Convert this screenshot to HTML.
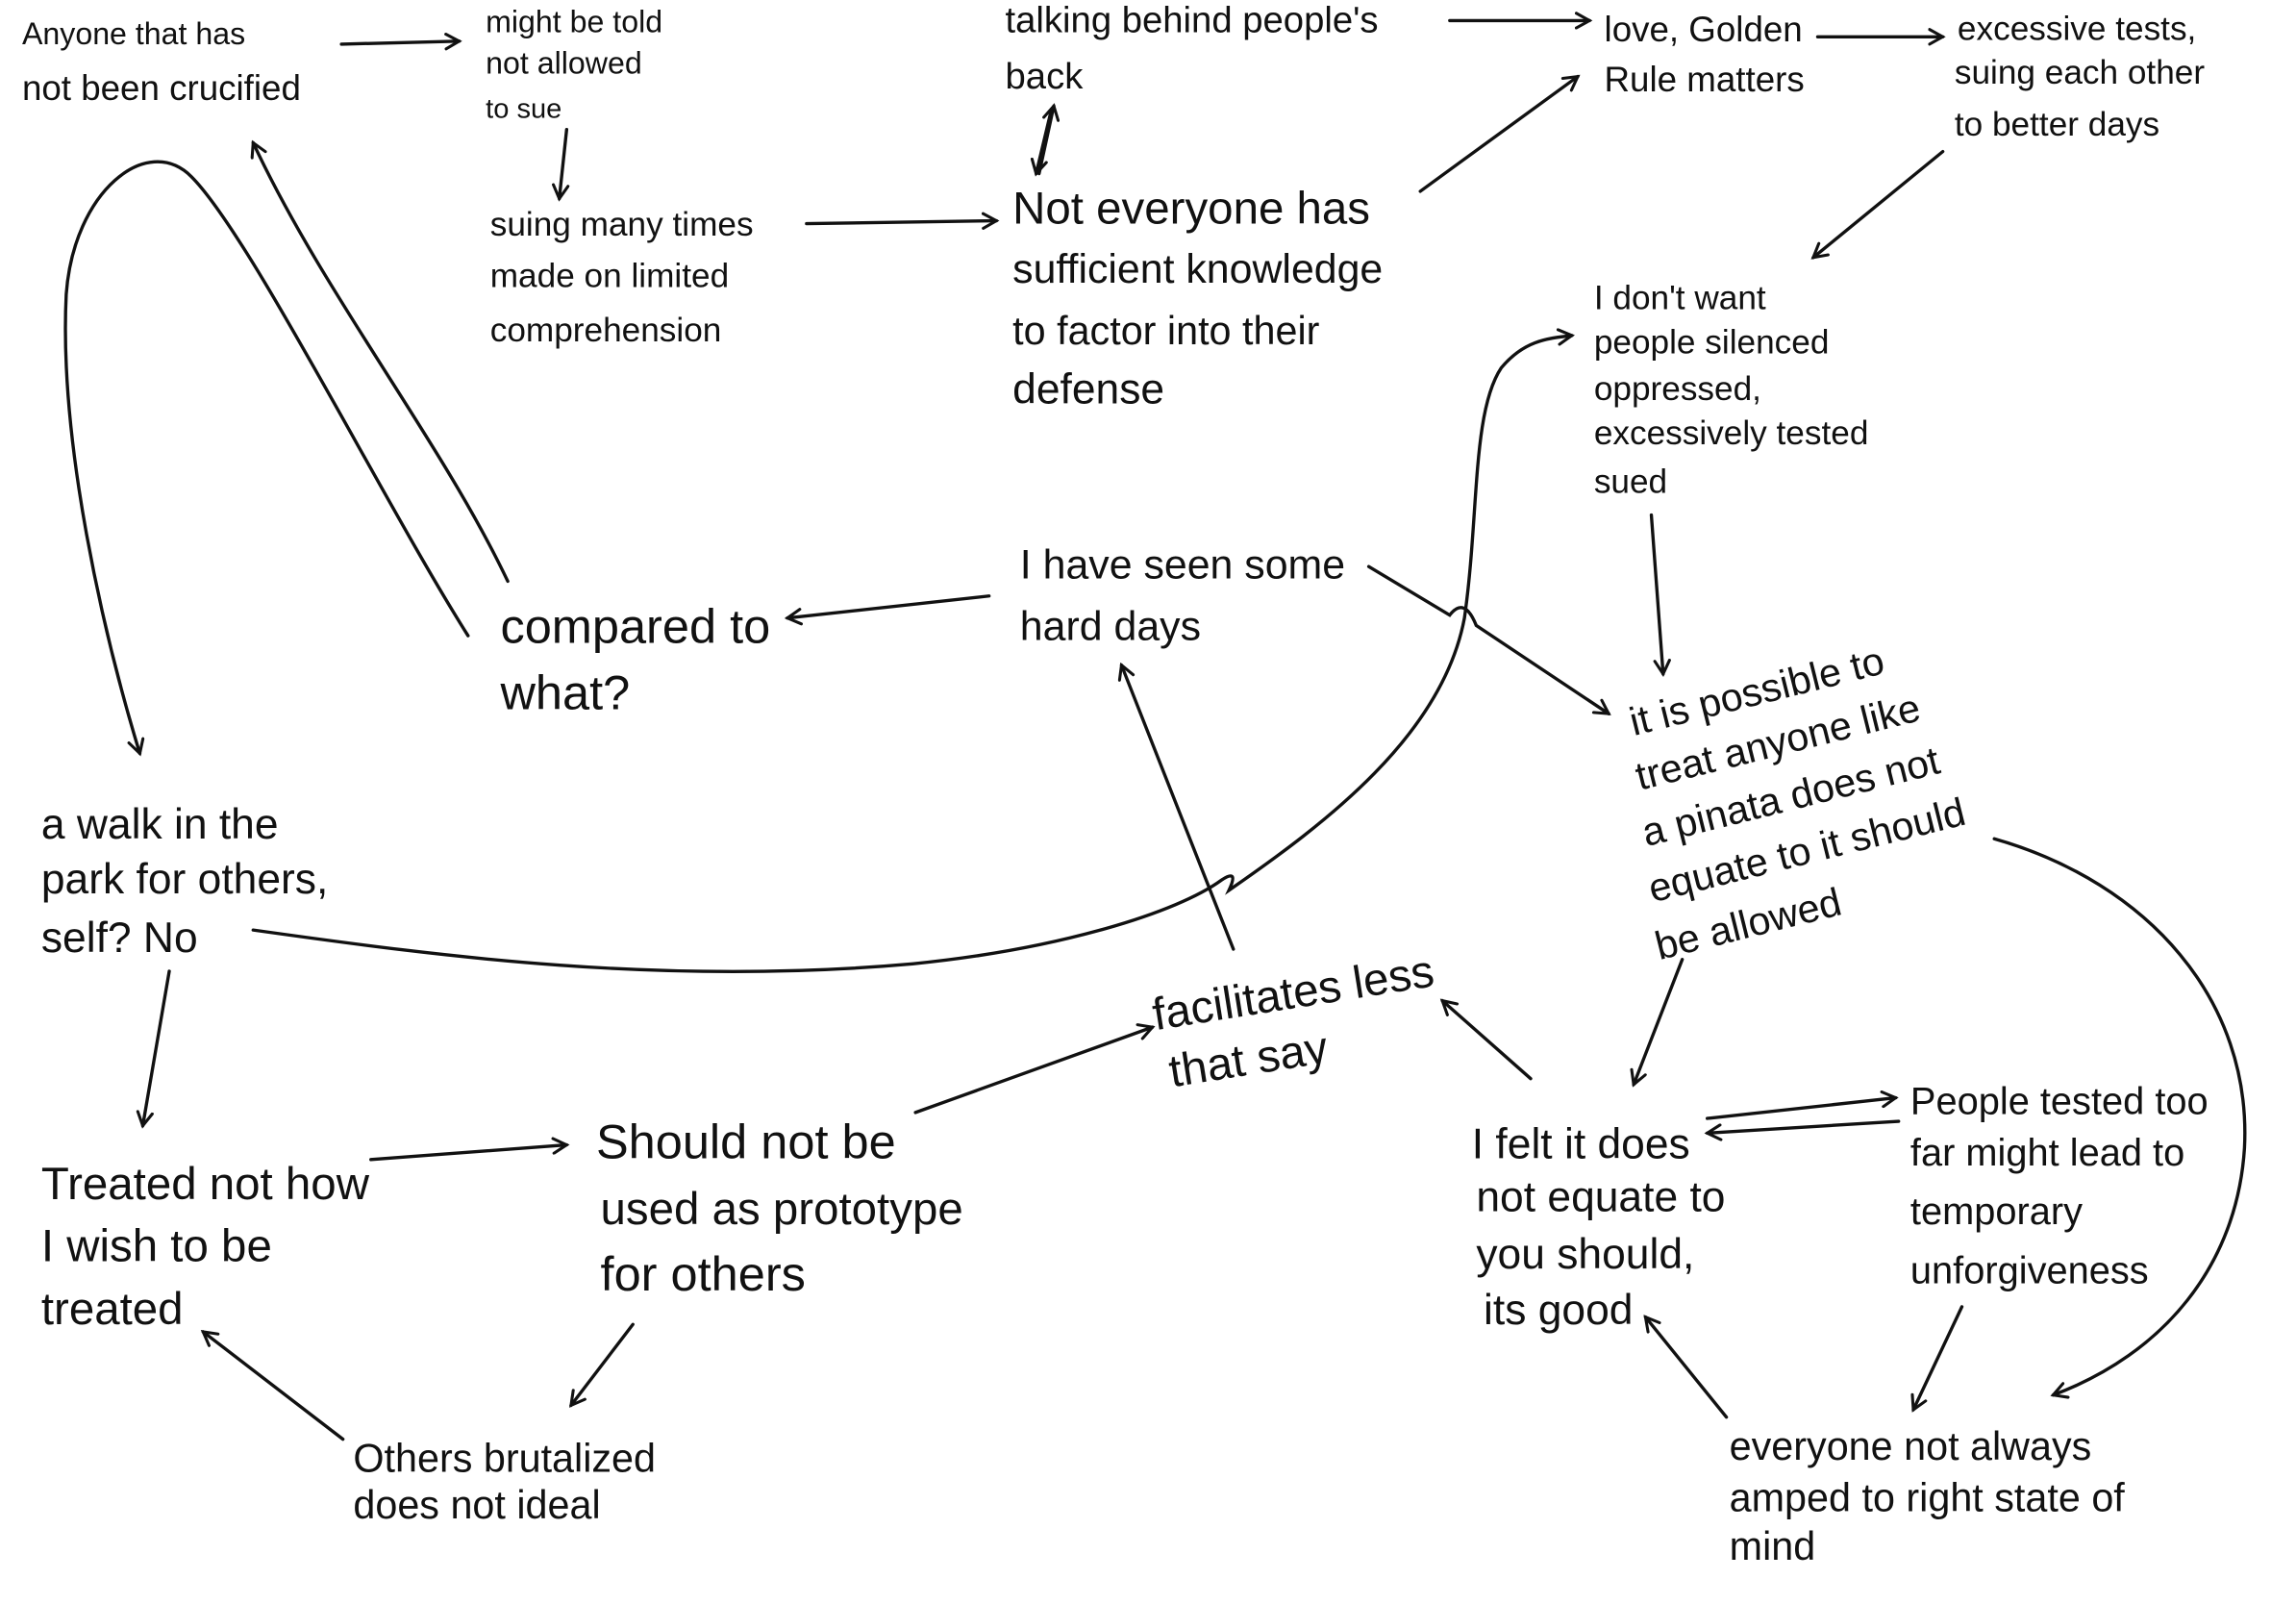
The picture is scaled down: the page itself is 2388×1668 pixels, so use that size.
<!DOCTYPE html>
<html><head><meta charset="utf-8"><style>
html,body{margin:0;padding:0;background:#fff;}
svg{display:block;}
text{font-family:"Liberation Sans",sans-serif;fill:#111;}
path,line{stroke:#111;stroke-width:2.2;fill:none;stroke-linecap:round;}
</style></head><body>
<svg width="2388" height="1668" viewBox="0 0 1560 1090" preserveAspectRatio="none" xmlns="http://www.w3.org/2000/svg">
<defs><marker id="a" markerWidth="12" markerHeight="12" refX="10" refY="6" orient="auto" markerUnits="userSpaceOnUse"><path d="M1,1 L10,6 L1,11" style="stroke-width:2"/></marker></defs>
<g font-size="24">
<text x="15" y="30" font-size="21">Anyone that has</text>
<text x="15" y="68" font-size="24">not been crucified</text>
<text x="330" y="22" font-size="21">might be told</text>
<text x="330" y="50" font-size="21">not allowed</text>
<text x="330" y="80" font-size="19">to sue</text>
<text x="333" y="160" font-size="23">suing many times</text>
<text x="333" y="195" font-size="23">made on limited</text>
<text x="333" y="232" font-size="23">comprehension</text>
<text x="683" y="22" font-size="25">talking behind people's</text>
<text x="683" y="60" font-size="25">back</text>
<text x="688" y="152" font-size="31">Not everyone has</text>
<text x="688" y="192" font-size="28">sufficient knowledge</text>
<text x="688" y="234" font-size="27">to factor into their</text>
<text x="688" y="274" font-size="29">defense</text>
<text x="1090" y="28" font-size="24">love, Golden</text>
<text x="1090" y="62" font-size="24">Rule matters</text>
<text x="1330" y="27" font-size="23">excessive tests,</text>
<text x="1328" y="57" font-size="23">suing each other</text>
<text x="1328" y="92" font-size="23">to better days</text>
<text x="1083" y="210" font-size="23">I don't want</text>
<text x="1083" y="240" font-size="23">people silenced</text>
<text x="1083" y="272" font-size="23">oppressed,</text>
<text x="1083" y="302" font-size="23">excessively tested</text>
<text x="1083" y="335" font-size="23">sued</text>
<text x="693" y="393" font-size="28">I have seen some</text>
<text x="693" y="435" font-size="28">hard days</text>
<text x="340" y="437" font-size="33">compared to</text>
<text x="340" y="482" font-size="33">what?</text>
<g transform="rotate(-14 1110 500)">
<text x="1110" y="500" font-size="27">it is possible to</text>
<text x="1105" y="537" font-size="27">treat anyone like</text>
<text x="1100" y="575" font-size="27">a pinata does not</text>
<text x="1095" y="613" font-size="27">equate to it should</text>
<text x="1090" y="652" font-size="27">be allowed</text>
</g>
<text x="28" y="570" font-size="29">a walk in the</text>
<text x="28" y="607" font-size="29">park for others,</text>
<text x="28" y="647" font-size="29">self? No</text>
<g transform="rotate(-9 785 700)">
<text x="785" y="700" font-size="31">facilitates less</text>
<text x="790" y="740" font-size="31">that say</text>
</g>
<text x="28" y="815" font-size="31">Treated not how</text>
<text x="28" y="857" font-size="31">I wish to be</text>
<text x="28" y="900" font-size="31">treated</text>
<text x="405" y="787" font-size="33">Should not be</text>
<text x="408" y="832" font-size="31">used as prototype</text>
<text x="408" y="877" font-size="33">for others</text>
<text x="240" y="1000" font-size="27">Others brutalized</text>
<text x="240" y="1032" font-size="27">does not ideal</text>
<text x="1000" y="787" font-size="29">I felt it does</text>
<text x="1003" y="823" font-size="29">not equate to</text>
<text x="1003" y="862" font-size="29">you should,</text>
<text x="1008" y="900" font-size="29">its good</text>
<text x="1298" y="757" font-size="26">People tested too</text>
<text x="1298" y="792" font-size="26">far might lead to</text>
<text x="1298" y="832" font-size="26">temporary</text>
<text x="1298" y="872" font-size="26">unforgiveness</text>
<text x="1175" y="992" font-size="27">everyone not always</text>
<text x="1175" y="1027" font-size="27">amped to right state of</text>
<text x="1175" y="1060" font-size="27">mind</text>
</g>
<g marker-end="url(#a)">
<path d="M232,30 L312,28"/>
<path d="M385,88 L380,135"/>
<path d="M548,152 L677,150"/>
<path d="M706,118 L716,72"/>
<path d="M714,76 L704,118"/>
<path d="M985,14 L1080,14"/>
<path d="M965,130 L1072,52"/>
<path d="M1235,25 L1320,25"/>
<path d="M1320,103 L1232,175"/>
<path d="M1122,350 L1130,458"/>
<path d="M930,385 L985,418 Q995,405 1003,425 L1093,485"/>
<path d="M672,405 L535,420"/>
<path d="M345,395 C300,300 220,200 172,97"/>
<path d="M318,432 C260,340 170,160 130,120 C100,90 50,130 45,200 C40,300 70,430 95,512"/>
<path d="M172,632 C300,650 450,670 620,655 C720,645 800,620 830,598 Q842,590 835,605 C900,560 980,500 995,420 C1005,350 1000,280 1020,250 C1035,232 1050,230 1068,228"/>
<path d="M838,645 L762,452"/>
<path d="M115,660 L97,765"/>
<path d="M252,788 L385,778"/>
<path d="M622,756 L783,698"/>
<path d="M430,900 L388,955"/>
<path d="M233,978 L138,905"/>
<path d="M1143,652 L1110,737"/>
<path d="M1040,733 L980,680"/>
<path d="M1160,760 L1288,746"/>
<path d="M1290,762 L1160,770"/>
<path d="M1333,888 L1300,958"/>
<path d="M1173,963 L1118,895"/>
<path d="M1355,570 C1460,600 1530,680 1525,780 C1520,860 1470,920 1395,948"/>
</g>
</svg>
</body></html>
